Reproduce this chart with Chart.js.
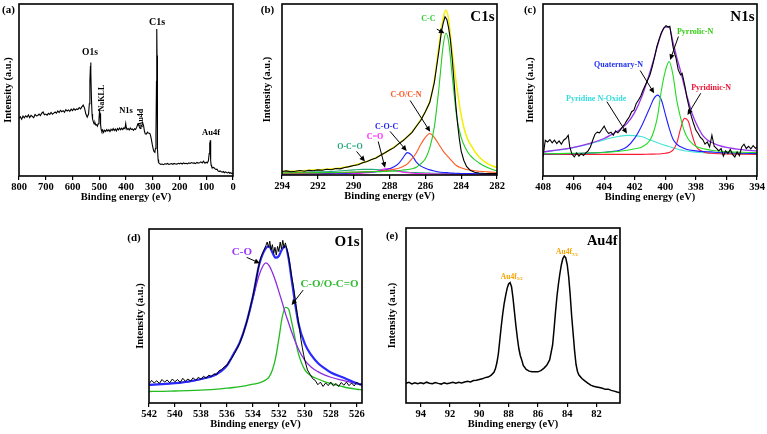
<!DOCTYPE html>
<html>
<head>
<meta charset="utf-8">
<script src="https://cdn.jsdelivr.net/npm/chart.js@4.4.1/dist/chart.umd.min.js"></script>
<style>
  html, body { margin: 0; padding: 0; background: #fff; }
  #wrap { position: relative; width: 767px; height: 434px; overflow: hidden; }
  #wrap canvas { position: absolute; }
</style>
</head>
<body>
<div id="wrap">
  <canvas id="panelA" width="241" height="206" style="left:2px;top:0px"></canvas>
  <canvas id="panelB" width="246" height="205" style="left:261px;top:0px"></canvas>
  <canvas id="panelC" width="243" height="206" style="left:524px;top:0px"></canvas>
  <canvas id="panelD" width="248" height="208" style="left:124px;top:225px"></canvas>
  <canvas id="panelE" width="244" height="209" style="left:386px;top:224px"></canvas>
</div>
<script>
// ---- tick labels ----
const surveyTicks = [0, 100, 200, 300, 400, 500, 600, 700, 800];
const c1sTicks = [282, 284, 286, 288, 290, 292, 294];
const n1sTicks = [394, 396, 398, 400, 402, 404, 406, 408];
const o1sTicks = [526, 528, 530, 532, 534, 536, 538, 540, 542];
const au4fTicks = [82, 84, 86, 88, 90, 92, 94];

// ---- (a) survey scan [binding energy, intensity] ----
const surveyScan = [
  [800,33.5],[795,34.5],[790,33.0],[785,34.8],[780,33.8],[775,35.0],[770,34.2],[765,35.5],[760,34.0],[755,35.3],
  [750,34.6],[745,33.9],[740,35.8],[735,34.9],[730,35.2],[725,36.0],[720,35.1],[715,36.5],[710,37.2],[705,35.6],
  [700,36.0],[695,35.4],[690,36.4],[685,35.8],[680,36.9],[675,35.9],[670,36.6],[665,37.2],[660,36.5],[655,37.8],
  [650,36.9],[645,38.2],[640,37.4],[635,38.0],[630,37.1],[625,38.6],[620,37.8],[615,38.4],[610,37.6],[605,38.9],
  [600,38.0],[595,39.2],[590,38.3],[585,39.0],[580,38.6],[575,39.8],[570,39.0],[565,40.2],[560,41.2],[555,39.5],
  [550,36.0],[545,34.2],[540,36.0],[537,42],[535,55],[533,64],[532,66.0],[531,60],[529,44],[527,36],
  [525,33.0],[522,31.5],[519,30.2],[516,31.0],[513,29.6],[510,29.8],[507,29.0],[504,30.4],[501,33],[499,37.5],
  [497,36.4],[495,30],[493,27.0],[490,25.8],[487,26.8],[484,25.4],[480,26.6],[476,25.9],[472,27.0],[468,26.1],
  [464,26.9],[460,25.8],[456,27.2],[452,26.4],[448,27.5],[444,26.5],[440,27.3],[436,26.2],[432,27.6],[428,26.8],
  [424,27.9],[420,26.9],[416,27.8],[412,27.0],[408,28.0],[404,27.5],[401,30.5],[399,28.2],[396,27.0],[392,27.6],
  [388,26.8],[384,27.9],[380,27.0],[376,27.4],[372,26.6],[368,27.5],[364,27.1],[360,28.4],[356,30.0],[353,30.4],
  [350,28.4],[347,27.6],[344,28.8],[340,29.8],[337,30.6],[334,29.0],[331,26.0],[328,24.5],[324,24.3],[320,25.5],
  [317,25.0],[313,24.8],[310,24.5],[306,22.0],[302,18.5],[298,15.5],[295,14.2],[292,13.8],[290,16],[288,25],
  [286,55],[285,85.4],[284,70],[283,35],[282,16],[280,9.5],[278,7.8],[275,7.2],[270,6.8],[265,7.0],
  [260,6.6],[255,7.1],[250,6.9],[245,7.3],[240,6.7],[235,7.0],[230,7.2],[225,6.8],[220,7.3],[215,7.0],
  [210,6.9],[205,7.4],[200,7.1],[195,7.5],[190,7.0],[185,7.6],[180,7.2],[175,7.4],[170,7.0],[165,7.6],
  [160,7.3],[155,7.8],[150,7.4],[145,7.6],[140,7.2],[135,7.9],[130,7.5],[125,7.7],[120,8.2],[115,7.6],
  [110,8.6],[105,7.4],[100,8.0],[96,7.6],[92,8.8],[89,13],[88,19.5],[87,16],[86,14],[85,20.8],
  [84,18],[83,9],[82,6.5],[80,5.6],[76,4.8],[72,5.0],[68,4.3],[64,3.8],[60,4.0],[56,3.0],
  [52,2.6],[48,3.0],[44,2.4],[40,2.2],[36,2.6],[32,1.9],[28,2.4],[24,2.0],[20,1.8],[16,2.2],
  [12,1.6],[8,1.9],[4,1.4],[0,1.6]
];

// ---- (b) C1s ----
const c1sFitEnergy = [294, 293, 292, 291, 290.5, 290, 289.5, 289, 288.75, 288.5, 288.25, 288, 287.75, 287.5, 287.25, 287,
  286.75, 286.5, 286.25, 286, 285.75, 285.5, 285.25, 285, 284.85, 284.7, 284.5, 284.25, 284, 283.75, 283.5, 283, 282.5, 282];
const c1sEnvelope = [2.0, 2.4, 3.0, 3.8, 4.5, 5.6, 7.2, 9.0, 10.2, 11.6, 13.0, 14.6, 16.3, 18.2, 20.2, 22.4,
  25.2, 28.5, 32.5, 37, 43, 55, 75, 92, 96.5, 91, 72, 52, 35, 24, 18.2, 10.5, 6.5, 4.3];
const ccFit = [1.2, 1.3, 1.4, 1.5, 1.6, 1.7, 1.8, 1.9, 2.0, 2.0, 2.1, 2.2, 2.4, 2.6, 2.9, 3.2,
  3.7, 4.5, 6.6, 9.5, 16, 28, 50, 76, 82.9, 78, 58, 34, 22, 15.5, 11.5, 7, 4.2, 2.4];
const coCnFit = [1.0, 1.1, 1.2, 1.4, 1.5, 1.6, 1.8, 2.0, 2.1, 2.3, 2.6, 2.9, 3.4, 4.0, 5.0, 6.5,
  9.5, 13, 18, 22, 24.3, 22, 18, 14, 12, 10.3, 8, 5.4, 4.2, 3.4, 2.9, 2.2, 1.8, 1.5];
const cocFit = [0.6, 0.7, 0.8, 1.0, 1.1, 1.3, 1.5, 1.8, 2.0, 2.4, 2.9, 3.6, 4.8, 6.6, 10, 13.1,
  11.5, 7.5, 5.2, 4.0, 3.0, 2.3, 1.8, 1.5, 1.4, 1.3, 1.1, 1.0, 0.9, 0.9, 0.8, 0.7, 0.6, 0.6];
const c2oFit = [0.5, 0.5, 0.6, 0.7, 0.8, 0.9, 1.1, 1.5, 2.0, 2.8, 3.7, 3.8, 3.0, 2.2, 1.6, 1.3,
  1.1, 0.9, 0.8, 0.7, 0.7, 0.6, 0.6, 0.6, 0.5, 0.5, 0.5, 0.5, 0.5, 0.5, 0.4, 0.4, 0.4, 0.4];
const ocoFit = [1.2, 1.4, 1.8, 2.2, 2.6, 3.0, 3.3, 3.3, 3.2, 3.0, 2.8, 2.6, 2.3, 2.1, 1.9, 1.7,
  1.5, 1.4, 1.3, 1.2, 1.1, 1.0, 1.0, 0.9, 0.9, 0.9, 0.8, 0.8, 0.8, 0.8, 0.8, 0.8, 0.8, 0.8];
const c1sRaw = [
  [294,2.0],[293.75,2.4],[293.5,1.9],[293.25,2.2],[293,2.6],[292.75,2.2],[292.5,2.7],[292.25,2.5],[292,3.0],[291.75,2.8],
  [291.5,3.4],[291.25,3.1],[291,3.8],[290.75,3.6],[290.5,4.4],[290.25,4.9],[290,5.6],[289.75,6.0],[289.5,7.2],[289.25,7.9],
  [289,9.0],[288.75,10.0],[288.5,11.6],[288.25,13.0],[288,14.6],[287.75,16.0],[287.5,18.2],[287.25,20.0],[287,22.4],[286.75,24.8],
  [286.5,28.5],[286.25,32.0],[286,37.0],[285.75,42.5],[285.5,54],[285.25,72],[285.1,84],[285,89],[284.9,92.5],[284.8,91],
  [284.7,86],[284.6,79],[284.5,68],[284.4,55],[284.3,41],[284.2,30],[284.1,21],[284,14],[283.85,8.5],[283.7,5.0],
  [283.5,2.8],[283.25,1.6],[283,1.2],[282.75,1.0],[282.5,0.9],[282.25,0.9],[282,0.8]
];

// ---- (c) N1s ----
const n1sFitEnergy = [408, 407, 406, 405, 404, 403.5, 403, 402.5, 402, 401.5, 401, 400.75, 400.5, 400.25, 400,
  399.75, 399.5, 399.25, 399, 398.75, 398.5, 398.25, 398, 397.5, 397, 396.5, 396, 395, 394];
const n1sEnvelope = [14, 15.2, 16.6, 18.8, 21.8, 24.2, 26.8, 30.6, 37, 47, 60.5, 68, 76, 83, 86.5,
  86.5, 78, 69, 61, 52, 44, 36.5, 31, 23, 19.6, 17.8, 16.6, 15.3, 14.6];
const quaternaryFit = [12.8, 12.9, 13.0, 13.3, 13.8, 14.2, 15.0, 17.0, 22, 30, 40, 45, 47, 44, 36,
  28, 21.5, 18.5, 17, 16, 15.3, 14.9, 14.6, 14.2, 14.0, 13.7, 13.5, 13.2, 13.0];
const pyrrolicFit = [12.9, 13.0, 13.2, 13.4, 13.7, 14.0, 14.4, 15.0, 15.8, 17.0, 20.8, 26, 35, 50, 61,
  66.5, 59, 44, 34, 26, 21.5, 19, 17.3, 15.8, 15.0, 14.5, 14.2, 13.8, 13.6];
const pyridinicFit = [12.6, 12.6, 12.6, 12.6, 12.6, 12.6, 12.6, 12.6, 12.6, 12.6, 12.7, 12.7, 12.8, 12.9, 13.2,
  13.7, 15, 19, 27.5, 33.5, 32, 24, 17.5, 14, 13.2, 12.9, 12.8, 12.7, 12.6];
const oxideFit = [14.0, 15.0, 16.5, 18.5, 21, 22.2, 23.1, 23.6, 23.5, 22.8, 21, 20.2, 19.3, 18.5, 17.8,
  17.1, 16.4, 15.8, 15.2, 14.7, 14.4, 14.1, 13.9, 13.6, 13.4, 13.2, 13.1, 12.8, 12.6];
const n1sRaw = [
  [408,11.1],[407.85,20.8],[407.7,19.8],[407.55,21.2],[407.4,19.3],[407.25,20.8],[407.1,18.9],[406.95,20.4],[406.8,18.5],[406.65,20.8],
  [406.5,21.8],[406.35,23.7],[406.25,16.9],[406.1,12.6],[405.95,11.1],[405.8,13.4],[405.65,11.5],[405.5,13.0],[405.35,11.9],[405.2,13.4],
  [405.05,14.6],[404.9,16.9],[404.75,20.8],[404.6,24.3],[404.45,25.5],[404.3,25.1],[404.15,27.0],[404,29.0],[403.85,26.3],[403.7,24.7],
  [403.55,25.5],[403.4,23.7],[403.25,26.3],[403.1,25.1],[402.95,26.7],[402.8,28.6],[402.65,30.2],[402.5,32.5],[402.35,34.4],[402.2,37.4],
  [402.05,38.3],[401.9,42.2],[401.75,44.2],[401.6,46.5],[401.45,50.0],[401.3,52.9],[401.15,55.8],[401,58.8],[400.85,63.6],[400.7,69.1],
  [400.55,75.3],[400.4,79.6],[400.25,83.5],[400.1,86.0],[399.95,87.4],[399.8,86.6],[399.7,87.0],[399.6,81.1],[399.5,75.3],[399.4,71.4],
  [399.3,68.5],[399.15,61.7],[399,58.8],[398.9,59.7],[398.8,55.8],[398.7,51.6],[398.6,46.1],[398.45,40.3],[398.3,34.8],[398.15,30.5],
  [398,26.7],[397.85,24.7],[397.7,22.4],[397.55,21.2],[397.4,18.5],[397.25,19.8],[397.1,16.9],[396.95,23.7],[396.8,17.3],[396.65,16.0],
  [396.5,14.6],[396.35,16.0],[396.2,11.5],[396.05,14.6],[395.9,13.0],[395.75,15.4],[395.6,12.6],[395.45,11.1],[395.3,14.0],[395.15,11.9],
  [395,16.9],[394.85,18.5],[394.7,16.0],[394.55,17.3],[394.4,15.8],[394.25,17.7],[394.1,16.1],[394,16.9]
];

// ---- (d) O1s ----
const o1sFitEnergy = [542, 541, 540, 539, 538, 537, 536.5, 536, 535.5, 535, 534.5, 534, 533.5, 533, 532.75, 532.5,
  532.25, 532, 531.75, 531.5, 531.25, 531, 530.5, 530, 529.5, 529, 528.5, 528, 527, 526, 525.6];
const o1sEnvelope = [10.4, 10.8, 11.4, 12.3, 13.8, 15.8, 18, 21.5, 28, 35, 46, 61, 80, 89, 90, 86.5,
  83.5, 84.5, 88.5, 90, 83, 70, 46, 34, 27.5, 23, 20, 17.5, 14.5, 11.3, 10.4];
const coFit = [10.4, 10.8, 11.4, 12.2, 13.6, 16, 18.5, 22, 28, 35, 46, 60, 74, 80.5, 79, 75,
  70, 64, 58, 51.5, 46, 40.5, 31, 24.5, 20.5, 18, 16.2, 14.8, 12.9, 11, 10.6];
const ocoO1sFit = [6.6, 6.7, 6.9, 7.1, 7.4, 7.8, 8.1, 8.5, 8.9, 9.4, 10.0, 10.8, 11.6, 13.3, 15, 19,
  26, 37, 49, 55, 54, 46, 28.5, 19, 15.5, 13.8, 12.3, 11.2, 9.2, 7.9, 7.5];
const o1sRaw = [
  [542,11.0],[541.8,13.0],[541.6,11.5],[541.4,12.8],[541.2,11.2],[541,13.5],[540.8,12.0],[540.6,13.2],[540.4,11.6],[540.2,13.8],
  [540,12.2],[539.8,13.5],[539.6,11.8],[539.4,14.2],[539.2,12.5],[539,13.8],[538.8,12.6],[538.6,14.5],[538.4,13.0],[538.2,14.8],
  [538,13.6],[537.8,15.4],[537.6,14.2],[537.4,16.0],[537.2,15.2],[537,16.8],[536.8,16.2],[536.6,18.6],[536.4,19.2],[536.2,20.8],
  [536,21.5],[535.8,24.2],[535.6,26.0],[535.4,28.8],[535.2,31.5],[535,34.6],[534.8,38.5],[534.6,43.5],[534.4,48.6],[534.2,55.0],
  [534,61.5],[533.8,69.0],[533.6,77.0],[533.4,83.5],[533.2,87.0],[533,90.5],[532.9,92.5],[532.8,89.5],[532.7,93.0],[532.6,88.0],
  [532.5,91.0],[532.4,86.0],[532.3,89.5],[532.2,85.0],[532.1,90.0],[532,87.0],[531.9,92.5],[531.8,88.5],[531.7,93.5],[531.6,89.0],
  [531.5,92.0],[531.4,89.0],[531.3,86.0],[531.2,82.0],[531.1,77.0],[531,72.0],[530.9,68.0],[530.8,63.0],[530.7,57.0],[530.6,52.0],
  [530.5,47.0],[530.4,42.0],[530.3,36.5],[530.2,32.0],[530.1,28.0],[530,24.5],[529.8,19.0],[529.6,16.5],[529.4,14.0],[529.2,13.0],
  [529,10.5],[528.8,12.0],[528.6,9.5],[528.4,11.5],[528.2,10.0],[528,12.0],[527.8,9.8],[527.6,11.2],[527.4,9.5],[527.2,11.8],
  [527,10.2],[526.8,12.0],[526.6,10.0],[526.4,11.5],[526.2,9.8],[526,12.0],[525.8,10.5],[525.6,11.0]
];

// ---- (e) Au4f ----
const au4fScan = [
  [95,11.2],[94.8,11.8],[94.6,10.9],[94.4,11.5],[94.2,11.0],[94,11.6],[93.8,11.1],[93.6,11.9],[93.4,11.3],[93.2,11.0],
  [93,11.7],[92.8,11.2],[92.6,10.8],[92.4,11.5],[92.2,11.0],[92,11.4],[91.8,11.9],[91.6,11.3],[91.4,11.8],[91.2,11.5],
  [91,12.0],[90.8,12.4],[90.6,12.0],[90.4,12.8],[90.2,13.0],[90,13.4],[89.8,13.8],[89.6,14.5],[89.4,14.8],[89.2,15.8],
  [89,17.5],[88.9,19.5],[88.8,23],[88.7,28],[88.6,36],[88.5,44],[88.4,51],[88.3,57],[88.2,61.5],[88.1,65.5],
  [88,68],[87.9,68.8],[87.8,66.5],[87.7,60],[87.6,52],[87.5,44],[87.4,37],[87.3,31],[87.2,27],[87.1,24.5],
  [87,21.5],[86.8,19.2],[86.6,18.2],[86.4,17.8],[86.2,17.9],[86,17.8],[85.8,18.5],[85.6,19.8],[85.4,21.5],[85.2,24.6],
  [85,33],[84.9,42],[84.8,52],[84.7,61],[84.6,68],[84.5,74],[84.4,79],[84.3,82.5],[84.2,84],[84.1,83],
  [84,79],[83.9,72],[83.8,62],[83.7,50],[83.6,40],[83.5,30],[83.4,22],[83.3,18],[83.2,16],[83,14],
  [82.8,12.6],[82.6,11.4],[82.4,10.2],[82.2,9.6],[82,9.2],[81.8,8.8],[81.6,8.4],[81.4,7.8],[81.2,7.9],[81,7.2],
  [80.8,6.8],[80.6,6.3],[80.4,5.9]
];

const SERIF = "'Liberation Serif', 'Times New Roman', serif";
Chart.defaults.font.family = SERIF;

const pairs = arr => arr.map(p => ({ x: p[0], y: p[1] }));
const onGrid = (grid, vals) => vals.map((v, i) => ({ x: grid[i], y: v }));

const raw = (points, color, width, order) => ({
    data: pairs(points), borderColor: color, borderWidth: width, tension: 0, order: order,
});
const fit = (grid, vals, color, width, order) => ({
    data: onGrid(grid, vals), borderColor: color, borderWidth: width,
    cubicInterpolationMode: 'monotone', order: order,
});

function drawArrow(ctx, x1, y1, x2, y2) {
    const ang = Math.atan2(y2 - y1, x2 - x1);
    const len = 5.5, half = 2.6;
    ctx.beginPath();
    ctx.moveTo(x1, y1);
    ctx.lineTo(x2 - Math.cos(ang) * len * 0.8, y2 - Math.sin(ang) * len * 0.8);
    ctx.stroke();
    ctx.beginPath();
    ctx.moveTo(x2, y2);
    ctx.lineTo(x2 - Math.cos(ang) * len + Math.sin(ang) * half, y2 - Math.sin(ang) * len - Math.cos(ang) * half);
    ctx.lineTo(x2 - Math.cos(ang) * len - Math.sin(ang) * half, y2 - Math.sin(ang) * len + Math.cos(ang) * half);
    ctx.closePath();
    ctx.fill();
}

function decor(cfg) {
    return {
        id: 'decor',
        afterDatasetsDraw(chart) {
            const { ctx, chartArea: a } = chart;
            const xs = chart.scales.x, ys = chart.scales.y;
            ctx.save();
            ctx.strokeStyle = '#000';
            ctx.fillStyle = '#000';
            ctx.lineWidth = 1.6;
            ctx.strokeRect(a.left, a.top, a.right - a.left, a.bottom - a.top);

            ctx.lineWidth = 1;
            (cfg.arrows || []).forEach(r => {
                drawArrow(ctx, xs.getPixelForValue(r[0]), ys.getPixelForValue(r[1]),
                    xs.getPixelForValue(r[2]), ys.getPixelForValue(r[3]));
            });

            (cfg.notes || []).forEach(n => {
                const px = xs.getPixelForValue(n.e), py = ys.getPixelForValue(n.v);
                ctx.fillStyle = n.color || '#000';
                ctx.font = `bold ${n.size}px ${SERIF}`;
                ctx.textBaseline = 'middle';
                if (n.rot) {
                    ctx.save();
                    ctx.translate(px, py);
                    ctx.rotate(-Math.PI / 2);
                    ctx.textAlign = 'center';
                    ctx.fillText(n.t, 0, 0);
                    ctx.restore();
                } else if (n.sub) {
                    const w1 = ctx.measureText(n.t).width;
                    ctx.font = `bold ${n.size * 0.62}px ${SERIF}`;
                    const w2 = ctx.measureText(n.sub).width;
                    const x0 = px - (w1 + w2) / 2;
                    ctx.textAlign = 'left';
                    ctx.fillText(n.sub, x0 + w1, py + n.size * 0.35);
                    ctx.font = `bold ${n.size}px ${SERIF}`;
                    ctx.fillText(n.t, x0, py);
                } else {
                    ctx.textAlign = 'center';
                    ctx.fillText(n.t, px, py);
                }
            });

            ctx.fillStyle = '#000';
            if (cfg.title) {
                ctx.font = `bold ${cfg.titleSize}px ${SERIF}`;
                ctx.textAlign = 'right';
                ctx.textBaseline = 'alphabetic';
                ctx.fillText(cfg.title, a.right - 2.5, a.top + 16.5);
            }
            ctx.font = `bold 11px ${SERIF}`;
            ctx.textAlign = 'center';
            ctx.textBaseline = 'middle';
            ctx.fillText(cfg.letter, a.left + cfg.letterDx, a.top + cfg.letterDy);
            ctx.restore();
        },
    };
}

const axisFont = { family: SERIF, size: 10.5, weight: 'bold' };

function makePanel(cfg) {
    const el = document.getElementById(cfg.canvas);
    new Chart(el.getContext('2d'), {
        type: 'line',
        data: { datasets: cfg.datasets },
        options: {
            responsive: false,
            animation: false,
            devicePixelRatio: 1,
            layout: { padding: { left: cfg.padL || 0, top: 4, right: 10, bottom: 2 } },
            elements: { point: { radius: 0 }, line: { fill: false } },
            plugins: { legend: { display: false }, tooltip: { enabled: false } },
            scales: {
                x: {
                    type: 'linear',
                    min: cfg.xMin,
                    max: cfg.xMax,
                    reverse: true,
                    afterBuildTicks: s => { s.ticks = cfg.ticks.map(v => ({ value: v })); },
                    afterFit: s => { s.height = 28; },
                    border: { display: false },
                    grid: { drawOnChartArea: false, drawTicks: true, tickLength: 4, color: '#000', lineWidth: 1.2 },
                    ticks: { color: '#000', padding: 1, maxRotation: 0, autoSkip: false, font: axisFont },
                    title: { display: true, text: 'Binding energy (eV)', color: '#000', font: axisFont, padding: 0 },
                },
                y: {
                    min: 0,
                    max: 100,
                    afterFit: s => { s.width = cfg.yW; },
                    border: { display: false },
                    grid: { display: false },
                    ticks: { display: false },
                    title: { display: true, text: 'Intensity (a.u.)', color: '#000', font: axisFont, padding: 0 },
                },
            },
        },
        plugins: [decor(cfg)],
    });
}

makePanel({
    canvas: 'panelA', xMin: 0, xMax: 800, ticks: surveyTicks, yW: 17,
    letter: '(a)', letterDx: -10.5, letterDy: 6,
    datasets: [raw(surveyScan, '#000', 1.1, 0)],
    notes: [
        { t: 'O1s', e: 534.6, v: 71.5, size: 9.5 },
        { t: 'NaKLL', e: 489.7, v: 45.3, size: 8, rot: true },
        { t: 'N1s', e: 400, v: 37.8, size: 8.5 },
        { t: 'Au4d', e: 343.9, v: 33.7, size: 8, rot: true },
        { t: 'C1s', e: 284, v: 89, size: 10 },
        { t: 'Au4f', e: 82.2, v: 25, size: 8.5 },
    ],
});

makePanel({
    canvas: 'panelB', xMin: 282, xMax: 294, ticks: c1sTicks, yW: 21,
    letter: '(b)', letterDx: -14.5, letterDy: 6, title: 'C1s', titleSize: 15,
    datasets: [
        raw(c1sRaw, '#000', 1.1, 0),
        fit(c1sFitEnergy, c1sEnvelope, '#f2f000', 1.5, 1),
        fit(c1sFitEnergy, ccFit, '#22cc22', 1.1, 2),
        fit(c1sFitEnergy, coCnFit, '#ff5a1f', 1.1, 3),
        fit(c1sFitEnergy, cocFit, '#1f1fff', 1.1, 4),
        fit(c1sFitEnergy, c2oFit, '#ff22ff', 1.1, 5),
        fit(c1sFitEnergy, ocoFit, '#1fa67a', 1.1, 6),
    ],
    notes: [
        { t: 'C-C', e: 285.83, v: 91.2, size: 8, color: '#33cc33' },
        { t: 'C-O/C-N', e: 287.08, v: 46.6, size: 8, color: '#ff5522' },
        { t: 'C-O-C', e: 288.16, v: 28.3, size: 8, color: '#2222ee' },
        { t: 'C=O', e: 288.81, v: 22, size: 8, color: '#ff22ff' },
        { t: 'O-C=O', e: 290.21, v: 16.7, size: 8, color: '#1fa67a' },
    ],
    arrows: [
        [285.36, 85.3, 284.93, 82.9],
        [286.85, 43.6, 285.73, 25.3],
        [287.97, 25.5, 287.04, 14.1],
        [288.63, 19.6, 288.25, 4.3],
        [289.84, 13.8, 289.37, 7.9],
    ],
});

makePanel({
    canvas: 'panelC', xMin: 394, xMax: 408, ticks: n1sTicks, yW: 19,
    letter: '(c)', letterDx: -13, letterDy: 6, title: 'N1s', titleSize: 15,
    datasets: [
        raw(n1sRaw, '#000', 1.1, 0),
        fit(n1sFitEnergy, n1sEnvelope, '#9933ee', 1.3, 1),
        fit(n1sFitEnergy, pyrrolicFit, '#22dd22', 1.1, 2),
        fit(n1sFitEnergy, quaternaryFit, '#1f1fff', 1.1, 3),
        fit(n1sFitEnergy, pyridinicFit, '#ff1a33', 1.1, 4),
        fit(n1sFitEnergy, oxideFit, '#44e6d6', 1.1, 5),
    ],
    notes: [
        { t: 'Pyrrolic-N', e: 398.05, v: 84, size: 8, color: '#33cc11' },
        { t: 'Quaternary-N', e: 403.06, v: 64.6, size: 8, color: '#2233ee' },
        { t: 'Pyridinic-N', e: 397.0, v: 51, size: 8, color: '#ee1133' },
        { t: 'Pyridine N-Oxide', e: 404.52, v: 44.9, size: 8, color: '#33dddd' },
    ],
    arrows: [
        [399.14, 81.1, 399.68, 67.5],
        [401.64, 61.3, 400.73, 48.1],
        [397.68, 48.1, 398.55, 35.4],
        [403.82, 43.2, 402.51, 24.7],
    ],
});

makePanel({
    canvas: 'panelD', xMin: 525.6, xMax: 542, ticks: o1sTicks, yW: 15, padL: 10,
    letter: '(d)', letterDx: -15, letterDy: 9, title: 'O1s', titleSize: 15,
    datasets: [
        raw(o1sRaw, '#000', 1.0, 0),
        fit(o1sFitEnergy, o1sEnvelope, '#2a2aff', 2.2, 1),
        fit(o1sFitEnergy, coFit, '#8a2be2', 1.3, 2),
        fit(o1sFitEnergy, ocoO1sFit, '#22bb22', 1.3, 3),
    ],
    notes: [
        { t: 'C-O', e: 534.85, v: 86.8, size: 11, color: '#9933ff' },
        { t: 'C-O/O-C=O', e: 528.1, v: 68.2, size: 11, color: '#33bb33' },
    ],
    arrows: [
        [534.48, 83.7, 533.46, 80.3],
        [530.13, 64.9, 531.02, 56.3],
    ],
});

makePanel({
    canvas: 'panelE', xMin: 80.4, xMax: 95, ticks: au4fTicks, yW: 20,
    letter: '(e)', letterDx: -14, letterDy: 8, title: 'Au4f', titleSize: 14.5,
    datasets: [raw(au4fScan, '#000', 1.5, 0)],
    notes: [
        { t: 'Au4f', sub: '7/2', e: 84.02, v: 86.3, size: 7.5, color: '#f5a400' },
        { t: 'Au4f', sub: '5/2', e: 87.79, v: 72.2, size: 7.5, color: '#f5a400' },
    ],
});
</script>
</body>
</html>
